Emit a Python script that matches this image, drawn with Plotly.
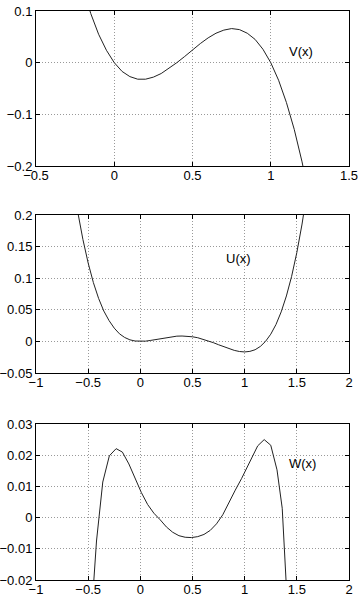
import plotly.graph_objects as go

# V(x)
v_x = [-0.20, -0.15, -0.10, -0.05, 0.00, 0.05, 0.10, 0.15, 0.20, 0.25,
       0.30, 0.35, 0.40, 0.45, 0.50, 0.55, 0.60, 0.65, 0.70, 0.75,
       0.80, 0.85, 0.90, 0.95, 1.00, 1.05, 1.10, 1.15, 1.20, 1.25]
v_y = [0.144, 0.095, 0.055, 0.024, 0.0, -0.017, -0.027, -0.032, -0.032, -0.028,
       -0.021, -0.011, 0.0, 0.012, 0.025, 0.037, 0.048, 0.057, 0.063, 0.066,
       0.064, 0.057, 0.045, 0.026, 0.0, -0.034, -0.077, -0.129, -0.192, -0.266]

# U(x)
u_x = [-0.65, -0.60, -0.55, -0.50, -0.45, -0.40, -0.35, -0.30, -0.25, -0.20,
       -0.15, -0.10, -0.05, 0.00, 0.05, 0.10, 0.15, 0.20, 0.25, 0.30,
       0.35, 0.40, 0.45, 0.50, 0.55, 0.60, 0.65, 0.70, 0.75, 0.80,
       0.85, 0.90, 0.95, 1.00, 1.05, 1.10, 1.15, 1.20, 1.25, 1.30,
       1.35, 1.40, 1.45, 1.50, 1.55, 1.60]
u_y = [0.257, 0.205, 0.161, 0.124, 0.093, 0.068, 0.048, 0.033, 0.021, 0.012,
       0.0062, 0.0025, 0.0006, 0.0, 0.0004, 0.0016, 0.0031, 0.0047, 0.0062, 0.0074,
       0.0083, 0.0085, 0.0083, 0.0073, 0.0058, 0.0036, 0.0009, -0.0020, -0.0053, -0.0085,
       -0.0116, -0.0142, -0.0160, -0.0167, -0.0158, -0.0132, -0.0080, 0.0, 0.0114, 0.0267,
       0.0467, 0.0719, 0.1029, 0.1406, 0.1857, 0.2389]

w_x = [-0.47, -0.42, -0.36, -0.297, -0.232, -0.172, -0.11, -0.05, 0.01, 0.07,
       0.13, 0.19, 0.25, 0.31, 0.37, 0.43, 0.49, 0.55, 0.61, 0.67,
       0.73, 0.79, 0.85, 0.91, 0.97, 1.03, 1.08, 1.125, 1.187, 1.25,
       1.31, 1.36, 1.42]
w_y = [-0.032, -0.0075, 0.0114, 0.0198, 0.0221, 0.0210, 0.0172, 0.0123, 0.0080, 0.0042,
       0.0014, -0.0007, -0.0030, -0.0047, -0.0058, -0.0063, -0.0064, -0.0061, -0.0054, -0.0041,
       -0.0020, 0.0009, 0.0050, 0.0088, 0.0125, 0.0165, 0.0200, 0.0230, 0.0250, 0.0232,
       0.0153, 0.0030, -0.035]

# tick values / labels
v_xticks = [-0.5, 0, 0.5, 1, 1.5]
v_xlabels = ["\u22120.5", "0", "0.5", "1", "1.5"]
v_yticks = [-0.2, -0.1, 0, 0.1]
v_ylabels = ["\u22120.2", "\u22120.1", "0", "0.1"]
uw_xticks = [-1, -0.5, 0, 0.5, 1, 1.5, 2]
uw_xlabels = ["\u22121", "\u22120.5", "0", "0.5", "1", "1.5", "2"]
u_yticks = [-0.05, 0, 0.05, 0.1, 0.15, 0.2]
u_ylabels = ["\u22120.05", "0", "0.05", "0.1", "0.15", "0.2"]
w_yticks = [-0.02, -0.01, 0, 0.01, 0.02, 0.03]
w_ylabels = ["\u22120.02", "\u22120.01", "0", "0.01", "0.02", "0.03"]

W, H = 362, 599
xdom = [36 / W, 349 / W]
doms = [[1 - 166 / H, 1 - 11 / H], [1 - 373 / H, 1 - 215 / H], [1 - 580 / H, 1 - 424 / H]]

line = dict(color="#222222", width=1)
fig = go.Figure()
fig.add_trace(go.Scatter(x=v_x, y=v_y, mode="lines", line=line, xaxis="x", yaxis="y"))
fig.add_trace(go.Scatter(x=u_x, y=u_y, mode="lines", line=line, xaxis="x2", yaxis="y2"))
fig.add_trace(go.Scatter(x=w_x, y=w_y, mode="lines", line=line, xaxis="x3", yaxis="y3"))

font = dict(family="Liberation Sans, Arial, sans-serif", size=13, color="black")


def ax(**kw):
    base = dict(showline=True, linecolor="black", linewidth=1, mirror="ticks",
                ticks="inside", ticklen=4, tickcolor="black",
                showgrid=True, gridcolor="#999999", griddash="1px,2px", gridwidth=1,
                zeroline=False, tickmode="array", fixedrange=True, automargin=False,
                tickfont=font)
    base.update(kw)
    return base


fig.update_layout(
    width=W, height=H,
    margin=dict(l=0, r=0, t=0, b=0),
    paper_bgcolor="white", plot_bgcolor="white",
    showlegend=False,
    xaxis=ax(domain=xdom, range=[-0.5, 1.5], tickvals=v_xticks, ticktext=v_xlabels,
             anchor="y", ticklabelstandoff=-3),
    yaxis=ax(domain=doms[0], range=[-0.2, 0.1], tickvals=v_yticks, ticktext=v_ylabels, anchor="x"),
    xaxis2=ax(domain=xdom, range=[-1, 2], tickvals=uw_xticks, ticktext=uw_xlabels,
              anchor="y2", ticklabelstandoff=-3),
    yaxis2=ax(domain=doms[1], range=[-0.05, 0.2], tickvals=u_yticks, ticktext=u_ylabels, anchor="x2"),
    xaxis3=ax(domain=xdom, range=[-1, 2], tickvals=uw_xticks, ticktext=uw_xlabels,
              anchor="y3", ticklabelstandoff=-3),
    yaxis3=ax(domain=doms[2], range=[-0.02, 0.03], tickvals=w_yticks, ticktext=w_ylabels, anchor="x3"),
)

fig.add_annotation(x=1.104, y=0.021, xref="x", yref="y", text="V(x)", showarrow=False,
                   xanchor="left", yanchor="middle", font=font)
fig.add_annotation(x=0.803, y=0.131, xref="x2", yref="y2", text="U(x)", showarrow=False,
                   xanchor="left", yanchor="middle", font=font)
fig.add_annotation(x=1.41, y=0.0174, xref="x3", yref="y3", text="W(x)", showarrow=False,
                   xanchor="left", yanchor="middle", font=font)

# page body has a default 8px margin; drop it so the figure fills the window
fig.write_html("out.html", config={"displayModeBar": False},
               post_script="document.body.style.margin='0';")
